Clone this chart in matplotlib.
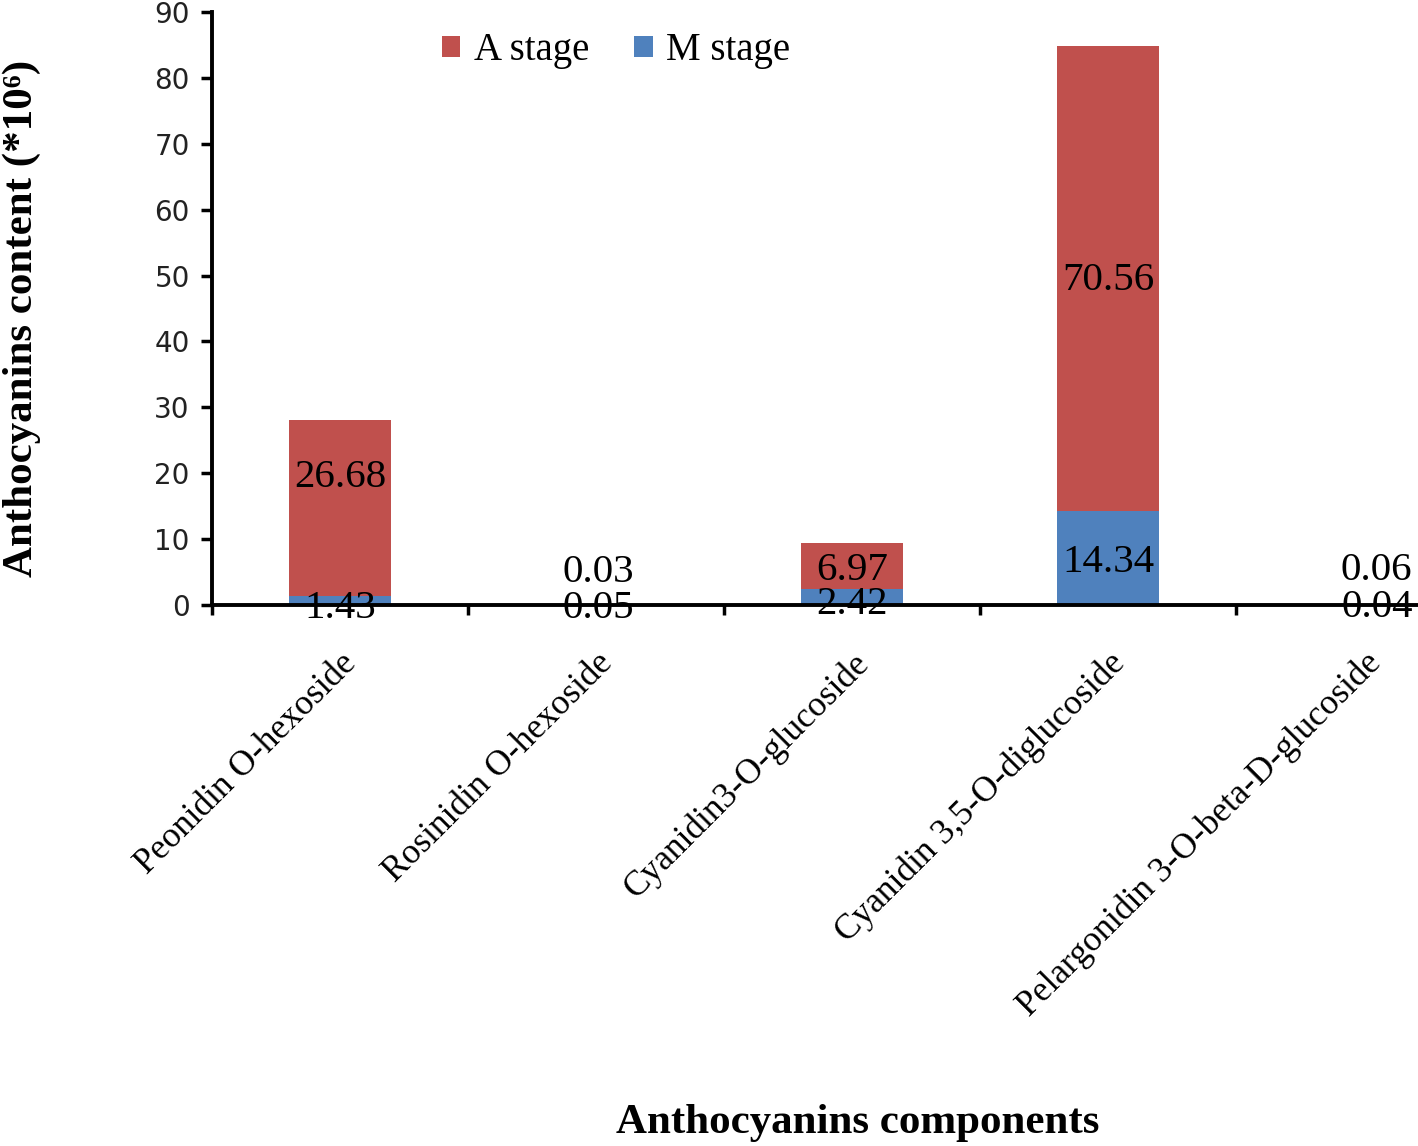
import matplotlib
matplotlib.use("Agg")
import matplotlib.pyplot as plt
from matplotlib.patches import Patch

components = ["Peonidin O-hexoside", "Rosinidin O-hexoside", "Cyanidin3-O-glucoside",
              "Cyanidin 3,5-O-diglucoside", "Pelargonidin 3-O-beta-D-glucoside"]
m_stage = [1.43, 0.05, 2.42, 14.34, 0.04]
a_stage = [26.68, 0.03, 6.97, 70.56, 0.06]

# label nudges (data units), the original labels were dragged by hand
m_off = [-1.2, -0.6, -1.1, -0.7, -0.4]
a_off = [4.6, 4.9, -0.6, -0.4, 5.2]
x_off = [0, 0.01, 0, 0, 0.05]

red = "#C0504D"
blue = "#4F81BD"
serif = ["Liberation Serif", "DejaVu Serif"]

fig = plt.figure(figsize=(14.18, 11.46), dpi=100)
ax = fig.add_axes([212/1418, 1 - 605/1146, 1280/1418, 593/1146])

x = list(range(len(components)))
ax.bar(x, m_stage, width=0.4, color=blue, label="M stage", zorder=2)
ax.bar(x, a_stage, width=0.4, bottom=m_stage, color=red, label="A stage", zorder=2)

for i in x:
    ym = m_stage[i] / 2 + m_off[i]
    ya = m_stage[i] + a_stage[i] / 2 + a_off[i]
    ax.text(i + x_off[i], ym, f"{m_stage[i]:.2f}", ha="center", va="center",
            fontsize=29.5, family=serif, zorder=3)
    ax.text(i + x_off[i], ya, f"{a_stage[i]:.2f}", ha="center", va="center",
            fontsize=29.5, family=serif, zorder=3)

ax.set_xlim(-0.5, 4.5)
ax.set_ylim(0, 90)
ax.set_yticks(range(0, 91, 10))
ax.tick_params(axis="y", labelsize=20, length=8, width=2.5, direction="out", pad=8)
for t in ax.get_yticklabels():
    t.set_family("DejaVu Sans")
    t.set_color("#222222")

ax.set_xticks(x)
ax.set_xticklabels(components, rotation=45, ha="right", va="top",
                   rotation_mode="anchor", fontsize=25.5, family=serif)
ax.tick_params(axis="x", which="major", length=0, pad=30)
ax.set_xticks([i + 0.5 for i in range(-1, 5)], minor=True)
ax.tick_params(axis="x", which="minor", length=7, width=2.5, direction="out")

for s in ["top", "right"]:
    ax.spines[s].set_visible(False)
for s in ["left", "bottom"]:
    ax.spines[s].set_linewidth(2.8)
    ax.spines[s].set_zorder(4)

handles = [Patch(facecolor=red, label="A stage"), Patch(facecolor=blue, label="M stage")]
ax.legend(handles=handles, loc="upper left", bbox_to_anchor=(0.152, 1.025), ncol=2,
          frameon=False, prop={"family": serif, "size": 28},
          handlelength=0.48, handleheight=0.48, handletextpad=0.35, columnspacing=1.15)

fig.text(858/1418, 1 - 1123/1146, "Anthocyanins components", ha="center", va="center",
         fontsize=31, fontweight="bold", family=serif)
fig.text(22/1418, 1 - 318/1146, "Anthocyanins content (*10\u2076)", ha="center", va="center",
         rotation=90, fontsize=31, fontweight="bold", family=serif)

fig.savefig("out.png", dpi=100)
